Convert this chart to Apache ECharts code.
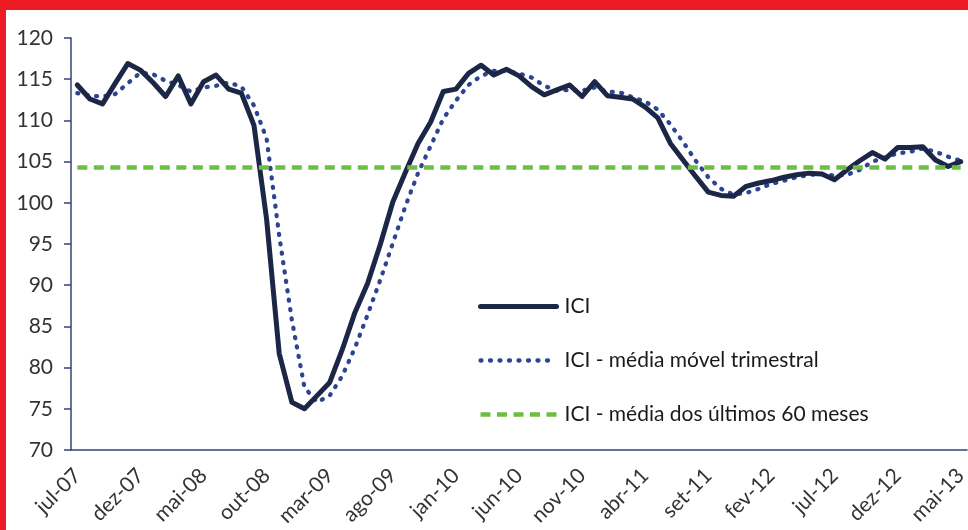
<!DOCTYPE html>
<html>
<head>
<meta charset="utf-8">
<script src="https://cdn.jsdelivr.net/npm/echarts@6/dist/echarts.min.js"></script>
<style>
    html, body { margin: 0; padding: 0; background: #fff; }
    #chartBox { width: 968px; height: 530px; }
</style>
</head>
<body>
<div id="chartBox"></div>
<script>
var meses = ['jul-07', 'ago-07', 'set-07', 'out-07', 'nov-07', 'dez-07',
    'jan-08', 'fev-08', 'mar-08', 'abr-08', 'mai-08', 'jun-08', 'jul-08', 'ago-08', 'set-08', 'out-08', 'nov-08', 'dez-08',
    'jan-09', 'fev-09', 'mar-09', 'abr-09', 'mai-09', 'jun-09', 'jul-09', 'ago-09', 'set-09', 'out-09', 'nov-09', 'dez-09',
    'jan-10', 'fev-10', 'mar-10', 'abr-10', 'mai-10', 'jun-10', 'jul-10', 'ago-10', 'set-10', 'out-10', 'nov-10', 'dez-10',
    'jan-11', 'fev-11', 'mar-11', 'abr-11', 'mai-11', 'jun-11', 'jul-11', 'ago-11', 'set-11', 'out-11', 'nov-11', 'dez-11',
    'jan-12', 'fev-12', 'mar-12', 'abr-12', 'mai-12', 'jun-12', 'jul-12', 'ago-12', 'set-12', 'out-12', 'nov-12', 'dez-12',
    'jan-13', 'fev-13', 'mar-13', 'abr-13', 'mai-13'];

var ici = [114.3, 112.6, 112.0, 114.5, 116.9, 116.1, 114.6, 112.9, 115.4, 112.0,
    114.7, 115.5, 113.8, 113.3, 109.4, 98.0, 81.7, 75.8, 75.0, 76.6,
    78.2, 82.2, 86.7, 90.2, 94.9, 100.1, 103.7, 107.2, 109.8, 113.5,
    113.8, 115.7, 116.7, 115.5, 116.2, 115.4, 114.1, 113.1, 113.7, 114.3,
    112.9, 114.7, 113.0, 112.8, 112.6, 111.6, 110.3, 107.2, 105.2, 103.2,
    101.3, 100.9, 100.8, 102.0, 102.4, 102.7, 103.1, 103.4, 103.6, 103.5,
    102.8, 104.0, 105.1, 106.1, 105.3, 106.7, 106.7, 106.8, 105.2, 104.4, 105.0];

var mediaMovel = [113.3, 113.0, 112.9, 113.2, 114.5, 115.8, 115.6, 114.8, 114.3, 113.5,
    114.0, 114.2, 114.6, 114.1, 111.8, 107.8, 96.0, 85.8, 77.6, 75.8,
    76.6, 79.0, 82.4, 86.4, 90.6, 95.1, 99.6, 103.6, 106.9, 110.2,
    112.4, 114.3, 115.4, 116.0, 116.0, 115.7, 115.2, 114.2, 113.6, 113.7,
    113.6, 114.0, 113.5, 113.4, 112.8, 112.3, 111.3, 109.5, 107.4, 105.1,
    103.1, 101.7, 101.0, 101.2, 101.7, 102.3, 102.7, 103.1, 103.4, 103.5,
    103.3, 103.4, 104.0, 105.0, 105.5, 106.0, 106.2, 106.6, 106.2, 105.6, 105.1];

var media60 = 104.3;

var nomes = ['ICI', 'ICI - média móvel trimestral', 'ICI - média dos últimos 60 meses'];

var fonte = 'Lato, "Open Sans", sans-serif';

function bindLine(id) {
    var chart = echarts.init(document.getElementById(id));
    chart.setOption(setOptionLine());
}

function setOptionLine() {
    var option = {
        animation: false,
        backgroundColor: '#fff',
        graphic: [
            { type: 'rect', shape: { x: 0, y: 0, width: 968, height: 10 }, style: { fill: '#ED1C24' } },
            { type: 'rect', shape: { x: 0, y: 0, width: 6, height: 530 }, style: { fill: '#ED1C24' } }
        ],
        grid: { left: 71, right: 1, top: 38, bottom: 80, outerBoundsMode: 'none' },
        legend: {
            orient: 'vertical',
            left: 473,
            top: 291,
            itemWidth: 76,
            itemHeight: 14,
            itemGap: 33,
            data: nomes,
            itemStyle: { opacity: 0 },
            lineStyle: { width: 'inherit', type: 'inherit', cap: 'inherit' },
            textStyle: { fontFamily: fonte, fontSize: 21, color: '#1a1a1a', lineHeight: 21, padding: [0, 0, 0, 3] }
        },
        xAxis: {
            type: 'category',
            data: meses,
            boundaryGap: true,
            axisLine: { lineStyle: { color: '#34427A', width: 1.5 } },
            axisTick: { interval: 4, length: 7, lineStyle: { color: '#34427A', width: 1.5 } },
            axisLabel: {
                interval: 4, rotate: 45, margin: 22,
                fontFamily: fonte, fontSize: 21, color: '#333'
            },
            splitLine: { show: false }
        },
        yAxis: {
            type: 'value',
            min: 70,
            max: 120,
            interval: 5,
            axisLine: { show: true, lineStyle: { color: '#34427A', width: 1.5 } },
            axisTick: { show: true, length: 7, lineStyle: { color: '#34427A', width: 1.5 } },
            axisLabel: { margin: 18, fontFamily: fonte, fontSize: 21, color: '#333' },
            splitLine: { show: false }
        },
        series: [
            {
                name: nomes[2],
                type: 'line',
                data: [],
                symbol: 'none',
                z: 1,
                lineStyle: { color: '#6DBE45', width: 4.5, type: [10, 6.5] },
                itemStyle: { color: '#6DBE45' },
                markLine: {
                    silent: true,
                    symbol: 'none',
                    label: { show: false },
                    lineStyle: { color: '#6DBE45', width: 4.5, type: [10, 6.5] },
                    data: [[{ coord: [meses[0], media60] }, { coord: [meses[meses.length - 1], media60] }]]
                }
            },
            {
                name: nomes[1],
                type: 'line',
                data: mediaMovel,
                symbol: 'none',
                z: 2,
                lineStyle: { color: '#2B4590', width: 4.3, type: [1, 8.5], cap: 'round' },
                itemStyle: { color: '#2B4590' }
            },
            {
                name: nomes[0],
                type: 'line',
                data: ici,
                symbol: 'none',
                z: 3,
                lineStyle: { color: '#1C2647', width: 5, join: 'round', cap: 'round' },
                itemStyle: { color: '#1C2647' }
            }
        ]
    };
    return option;
}

bindLine('chartBox');
</script>
</body>
</html>
